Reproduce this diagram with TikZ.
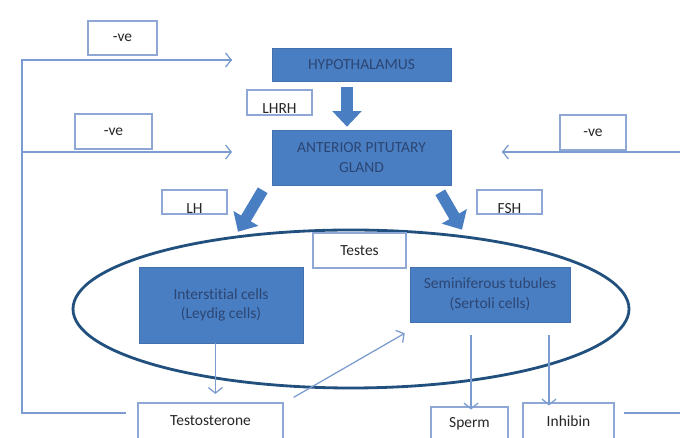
\documentclass[tikz,border=0pt]{standalone}
\usepackage{fontspec}
\setmainfont{Carlito}[Ligatures=NoCommon]
\usepackage{xcolor}
\usetikzlibrary{arrows.meta}

\definecolor{glandblue}{HTML}{4A7EC2}
\definecolor{glandtext}{HTML}{2B4674}
\definecolor{tagedge}{HTML}{8EA7D4}
\definecolor{flowblue}{HTML}{7B9CD0}
\definecolor{ovalblue}{HTML}{22507E}

\tikzset{
	boxsize/.style 2 args={minimum width=#1*0.025cm, minimum height=#2*0.025cm},
	gland/.style={fill=glandblue, draw=glandblue!90!black, line width=0.4pt, text=glandtext, align=center, inner sep=0pt, font=\fontsize{11}{14}\selectfont},
	tag/.style={draw=tagedge, line width=0.9pt, fill=white, text=black!85, inner sep=0pt, font=\fontsize{11}{13}\selectfont},
	lowtext/.style={text height=16pt, text depth=0pt},
	flow/.style={draw=flowblue, line width=0.9pt, -{Straight Barb[length=4pt, width=10pt]}},
	feedline/.style={draw=flowblue, line width=0.9pt},
	bigflow/.style={draw=glandblue, line width=8pt, -{Triangle[length=11pt, width=20pt]}},
	oval/.style={draw=ovalblue, line width=2pt}
}

\begin{document}
\begin{tikzpicture}[x=0.025cm, y=-0.025cm]
	\def\picW{680}
	\def\picH{438}
	\fill[white] (0,0) rectangle (\picW,\picH);
	\useasboundingbox (0,0) rectangle (\picW,\picH);
	\clip (0,0) rectangle (\picW,\picH);

	% testes
	\draw[oval] (351,309) ellipse [x radius=278, y radius=79];

	% glands and cells
	\begin{scope}
		\node[gland, boxsize={179}{33}] (hypo) at (361.5,64.5) {HYPOTHALAMUS};
		\node[gland, boxsize={179}{55}] (pit) at (361.5,157.5) {ANTERIOR PITUTARY\\GLAND};
		\node[gland, boxsize={164}{76}] (inter) at (221,305) {Interstitial cells\\(Leydig cells)};
		\node[gland, boxsize={160}{55}] (semi) at (490,294.5) {Seminiferous tubules\\(Sertoli cells)};
	\end{scope}

	% labels
	\begin{scope}
		\node[tag, lowtext, boxsize={65}{25}] (lhrh) at (279.5,102.5) {LHRH};
		\node[tag, lowtext, boxsize={65}{24}] (lh) at (194.5,202) {LH};
		\node[tag, lowtext, boxsize={65}{24}] (fsh) at (509.5,202) {FSH};
		\node[tag, boxsize={69}{34}] (veA) at (122.5,38) {-ve};
		\node[tag, boxsize={77}{35}] (veB) at (113.5,131.5) {-ve};
		\node[tag, boxsize={66}{35}] (veC) at (593,132.5) {-ve};
		\node[tag, boxsize={93}{35}] (testes) at (359.5,250.5) {Testes};
		\node[tag, boxsize={145}{36}] (testo) at (210.5,421) {Testosterone};
		\node[tag, boxsize={77}{33}] (sperm) at (469.5,423.5) {Sperm};
		\node[tag, boxsize={91}{36}] (inhibin) at (568.5,421) {Inhibin};
	\end{scope}

	% hormones
	\begin{scope}
		\draw[bigflow] ([shift={(-14.5,6)}]hypo.south) -- ([shift={(-14.5,-3)}]pit.north);
		\draw[bigflow] ([shift={(-9,5)}]pit.south west) -- ([shift={(17,-35)}]inter.north);
		\draw[bigflow] ([shift={(-11,7)}]pit.south east) -- ([shift={(-28,-37)}]semi.north);
	\end{scope}

	% products
	\begin{scope}
		\draw[flow, shorten >=6pt] ([xshift=-4pt]inter.south) -- ([xshift=-4pt]inter.south |- testo.north);
		\draw[flow] ([shift={(10,-5)}]testo.north east) -- ([shift={(-5,11)}]semi.south west);
		\foreach \dx/\out in {-19/sperm, 59/inhibin}
		{
			\draw[flow, shorten >=7pt] ([shift={(\dx,13)}]semi.south) -- ([shift={(\dx,13)}]semi.south |- \out.north);
		}
	\end{scope}

	% negative feedback
	\begin{scope}
		\coordinate (fbHypo) at (232,60);
		\coordinate (fbPitL) at (232,152);
		\coordinate (fbPitR) at (502,152);
		\coordinate (fbLeft) at (22,413);
		\coordinate (fbRight) at (683,413);
		\draw[feedline] ([shift={(-11,-8)}]testo.west) -- (fbLeft) |- (fbHypo);
		\draw[flow] (fbLeft |- fbHypo) -- (fbHypo);
		\draw[flow] (fbLeft |- fbPitL) -- (fbPitL);
		\draw[feedline] ([shift={(9,-8)}]inhibin.east) -- (fbRight) |- (fbPitR);
		\draw[flow] ([xshift=10pt]fbRight |- fbPitR) -- (fbPitR);
	\end{scope}
\end{tikzpicture}
\end{document}
